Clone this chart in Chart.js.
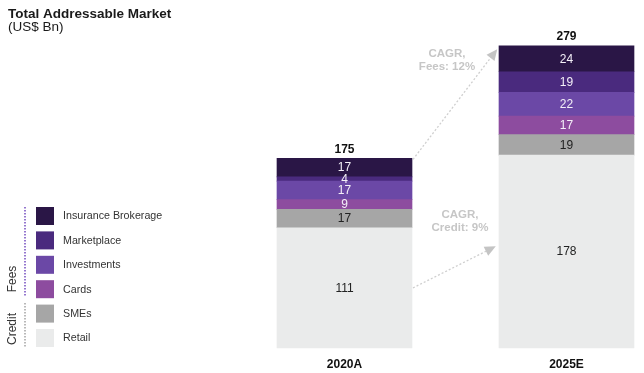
<!DOCTYPE html>
<html>
<head>
<meta charset="utf-8">
<script src="https://cdn.jsdelivr.net/npm/chart.js@4.4.3/dist/chart.umd.min.js"></script>
<style>
  html, body { margin: 0; padding: 0; background: #fff; }
  #wrap { width: 644px; height: 373px; }
</style>
</head>
<body>
<div id="wrap"><canvas id="tam" width="644" height="373"></canvas></div>
<script>
const years = ['2020A', '2025E'];
const seriesNames = ['Retail', 'SMEs', 'Cards', 'Investments', 'Marketplace', 'Insurance Brokerage'];
const retail = [111, 178];
const smes = [17, 19];
const cards = [9, 17];
const investments = [17, 22];
const marketplace = [4, 19];
const insurance = [17, 24];
const totals = [175, 279];
const colors = ['#eaebeb', '#a6a6a6', '#8d4c9f', '#6b48a6', '#4a2a7e', '#2a1646'];
const labelColors = ['#222', '#222', '#f4f0f8', '#f4f0f8', '#f4f0f8', '#f4f0f8'];
const groups = [
  { name: 'Fees', color: '#7b55c2' },
  { name: 'Credit', color: '#a8a8a8' }
];
const cagrFees = ['CAGR,', 'Fees: 12%'];
const cagrCredit = ['CAGR,', 'Credit: 9%'];

const values = [retail, smes, cards, investments, marketplace, insurance];
const FONT = '"Liberation Sans", Arial, sans-serif';

function arrow(ctx, x1, y1, x2, y2) {
  ctx.save();
  ctx.strokeStyle = '#cfcfcf';
  ctx.fillStyle = '#c4c4c4';
  ctx.lineWidth = 1.3;
  ctx.setLineDash([2, 2]);
  ctx.beginPath();
  ctx.moveTo(x1, y1);
  ctx.lineTo(x2, y2);
  ctx.stroke();
  const a = Math.atan2(y2 - y1, x2 - x1);
  const len = 9, half = 5;
  ctx.setLineDash([]);
  ctx.beginPath();
  ctx.moveTo(x2 + Math.cos(a) * 2, y2 + Math.sin(a) * 2);
  ctx.lineTo(x2 - Math.cos(a) * len + Math.sin(a) * half, y2 - Math.sin(a) * len - Math.cos(a) * half);
  ctx.lineTo(x2 - Math.cos(a) * len - Math.sin(a) * half, y2 - Math.sin(a) * len + Math.cos(a) * half);
  ctx.closePath();
  ctx.fill();
  ctx.restore();
}

const decorations = {
  id: 'decorations',
  afterDatasetsDraw(chart) {
    const ctx = chart.ctx;
    const y = chart.scales.y;
    ctx.save();
    ctx.textAlign = 'center';
    ctx.textBaseline = 'middle';
    ctx.font = '12px ' + FONT;
    chart.data.datasets.forEach((ds, i) => {
      chart.getDatasetMeta(i).data.forEach((bar, j) => {
        ctx.fillStyle = labelColors[i];
        ctx.fillText(String(ds.data[j]), bar.x, (bar.y + bar.base) / 2 + 0.5);
      });
    });
    // totals
    const top = chart.getDatasetMeta(chart.data.datasets.length - 1).data;
    ctx.font = 'bold 12px ' + FONT;
    ctx.fillStyle = '#111';
    totals.forEach((t, j) => ctx.fillText(String(t), top[j].x, y.getPixelForValue(t) - 9));

    // CAGR arrows
    const b0 = top[0], b1 = top[1];
    const r0 = b0.x + b0.width / 2, l1 = b1.x - b1.width / 2;
    arrow(ctx, r0 + 1, y.getPixelForValue(totals[0]) + 1, l1 - 3, y.getPixelForValue(totals[1]) + 5);
    arrow(ctx, r0 + 1, y.getPixelForValue(retail[0] / 2), l1 - 5, y.getPixelForValue(93));
    ctx.font = 'bold 11.5px ' + FONT;
    ctx.fillStyle = '#c6c6c6';
    ctx.fillText(cagrFees[0], 447, 54);
    ctx.fillText(cagrFees[1], 447, 67);
    ctx.fillText(cagrCredit[0], 460, 215);
    ctx.fillText(cagrCredit[1], 460, 228);
    ctx.restore();
  },
  afterDraw(chart) {
    const ctx = chart.ctx;
    ctx.save();
    // title
    ctx.textAlign = 'left';
    ctx.textBaseline = 'alphabetic';
    ctx.fillStyle = '#1a1a1a';
    ctx.font = 'bold 13.5px ' + FONT;
    ctx.fillText('Total Addressable Market', 8, 18);
    ctx.font = '13.5px ' + FONT;
    ctx.fillText('(US$ Bn)', 8, 31);

    // legend, top to bottom = stack top to bottom
    ctx.textBaseline = 'middle';
    ctx.font = '10.7px ' + FONT;
    for (let k = 0; k < seriesNames.length; k++) {
      const i = seriesNames.length - 1 - k;
      const cy = 216 + k * 24.4;
      ctx.fillStyle = colors[i];
      ctx.fillRect(36, cy - 9, 18, 18);
      ctx.fillStyle = '#333';
      ctx.fillText(seriesNames[i], 63, cy + 0.5);
    }

    // group brackets
    ctx.lineWidth = 1.6;
    ctx.setLineDash([1.6, 1.4]);
    ctx.strokeStyle = groups[0].color;
    ctx.beginPath(); ctx.moveTo(25, 207); ctx.lineTo(25, 296); ctx.stroke();
    ctx.strokeStyle = groups[1].color;
    ctx.beginPath(); ctx.moveTo(25, 303); ctx.lineTo(25, 348); ctx.stroke();
    ctx.setLineDash([]);
    ctx.fillStyle = '#333';
    ctx.font = '12px ' + FONT;
    ctx.textAlign = 'center';
    [[groups[0].name, 279], [groups[1].name, 329]].forEach(([t, cy]) => {
      ctx.save();
      ctx.translate(13, cy);
      ctx.rotate(-Math.PI / 2);
      ctx.fillText(t, 0, 0);
      ctx.restore();
    });
    ctx.restore();
  }
};

new Chart(document.getElementById('tam'), {
  type: 'bar',
  data: {
    labels: years,
    datasets: seriesNames.map((name, i) => ({
      label: name,
      data: values[i],
      backgroundColor: colors[i],
      borderWidth: 0,
      barThickness: 135,
      clip: false
    }))
  },
  options: {
    responsive: false,
    animation: false,
    layout: { padding: { left: 344.5, right: 77.5, top: 23, bottom: 0 } },
    plugins: { legend: { display: false }, tooltip: { enabled: false }, title: { display: false } },
    scales: {
      x: {
        stacked: true,
        offset: false,
        grid: { display: false, drawTicks: false },
        border: { display: false },
        ticks: { padding: 9, color: '#111', font: { family: FONT, size: 12, weight: 'bold' } },
        afterFit(scale) { scale.height = 25; }
      },
      y: { stacked: true, display: false, min: 0, max: 300 }
    }
  },
  plugins: [decorations]
});
</script>
</body>
</html>
